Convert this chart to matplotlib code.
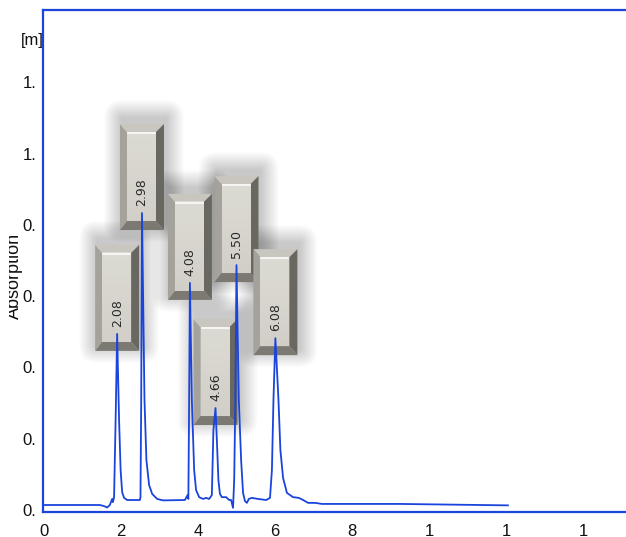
import matplotlib
matplotlib.use("Agg")
import matplotlib.pyplot as plt
from matplotlib.patches import Polygon, Rectangle, FancyBboxPatch
from matplotlib.transforms import IdentityTransform, Bbox

# ---------------- data ----------------
time_min = [0.00, 1.45, 1.56, 1.64, 1.71, 1.77, 1.79, 1.82, 1.86, 1.90, 1.95, 1.99, 2.03, 2.08, 2.16,
            2.49, 2.506, 2.525, 2.545, 2.61, 2.66, 2.73, 2.81, 2.94, 3.09, 3.66, 3.73, 3.75, 3.77,
            3.79, 3.84, 3.90, 3.95, 4.03, 4.13, 4.21, 4.29, 4.36, 4.40, 4.455, 4.49, 4.53, 4.57,
            4.62, 4.73, 4.81, 4.86, 4.91, 4.94, 4.97, 5.00, 5.06, 5.12, 5.17, 5.22, 5.27, 5.32,
            5.40, 5.56, 5.77, 5.87, 5.92, 5.96, 6.01, 6.09, 6.14, 6.21, 6.31, 6.47, 6.62, 6.73,
            6.86, 7.04, 7.22, 9.25, 12.05]
absorption = [0.014, 0.014, 0.011, 0.007, 0.014, 0.031, 0.022, 0.036, 0.252, 0.494, 0.252, 0.112,
              0.050, 0.034, 0.028, 0.028, 0.036, 0.309, 0.833, 0.309, 0.140, 0.070, 0.045, 0.031,
              0.027, 0.028, 0.042, 0.031, 0.309, 0.637, 0.309, 0.112, 0.056, 0.036, 0.031, 0.034,
              0.031, 0.042, 0.224, 0.286, 0.196, 0.084, 0.045, 0.036, 0.036, 0.028, 0.028, 0.006,
              0.084, 0.309, 0.687, 0.309, 0.140, 0.048, 0.025, 0.020, 0.031, 0.034, 0.031, 0.028,
              0.034, 0.112, 0.309, 0.482, 0.309, 0.168, 0.090, 0.048, 0.036, 0.034, 0.028, 0.020,
              0.020, 0.017, 0.017, 0.013]

peak_labels = ["2.08", "2.98", "4.08", "4.66", "5.50", "6.08"]
peak_times = [1.90, 2.545, 3.79, 4.455, 5.00, 6.01]
peak_heights = [0.494, 0.833, 0.637, 0.286, 0.687, 0.482]

x_ticks = [0, 2, 4, 6, 8, 10, 12, 14]
x_ticklabels = ["0", "2", "4", "6", "8", "1", "1", "1"]
y_ticks = [0.0, 0.2, 0.4, 0.6, 0.8, 1.0, 1.2]
y_ticklabels = ["0.", "0.", "0.", "0.", "0.", "1.", "1."]

# ---------------- figure ----------------
W, H = 626, 537
fig = plt.figure(figsize=(W / 100, H / 100), dpi=100)
fig.patch.set_facecolor("white")

x_px_per_unit = 38.5
y_px_per_unit = 356.5
x_lo, y_lo, y_hi = -1 / x_px_per_unit, -2 / y_px_per_unit, 500 / y_px_per_unit
x_hi = 16.0
ax_left = 43
ax_bottom = H - 512
ax_w = (x_hi - x_lo) * x_px_per_unit
ax_h = 502
ax = fig.add_axes([ax_left / W, ax_bottom / H, ax_w / W, ax_h / H])
ax.set_xlim(x_lo, x_hi)
ax.set_ylim(y_lo, y_hi)

blue = "#1a44dc"
for side in ["left", "top", "bottom"]:
    ax.spines[side].set_color(blue)
    ax.spines[side].set_linewidth(1.6)
ax.spines["right"].set_visible(False)

ax.set_xticks(x_ticks)
ax.set_xticklabels(x_ticklabels)
ax.set_yticks(y_ticks)
ax.set_yticklabels(y_ticklabels)
ax.tick_params(axis="both", length=0, labelsize=12, colors="#111111")
ax.tick_params(axis="x", pad=9)
ax.tick_params(axis="y", pad=5)
for lab in ax.get_xticklabels() + ax.get_yticklabels():
    lab.set_fontfamily("Liberation Sans")

fig.text(32 / W, 1 - 40 / H, "[m]", fontsize=12, family="Liberation Sans",
         ha="center", va="center", color="#111111")
ylab = fig.text(14 / W, 1 - 276 / H, "Absorption", fontsize=13, family="Liberation Sans",
                rotation=90, ha="center", va="center", color="#111111")
ylab.set_clip_box(Bbox([[9, 0], [W, H]]))
ylab.set_clip_on(True)

# trace
ax.plot(time_min, absorption, color=blue, lw=1.3, zorder=10, clip_on=False)

# ---------------- bevelled label boxes ----------------
def draw_box(px, py, label):
    L, R = px - 22, px + 22
    B, T = py - 17, py + 89
    bl, br, bt, bb = 7, 8, 8, 9
    iL, iR, iB, iT = L + bl, R - br, B + bb, T - bt
    tr = IdentityTransform()
    # soft shadow (cast slightly upward / to the right)
    for k in range(18, 0, -1):
        ax.add_patch(FancyBboxPatch((L + 2, B + 6), (R - L), (T - B),
                                    boxstyle="round,pad=%d,rounding_size=%d" % (k, k),
                                    transform=tr, facecolor="#000000", edgecolor="none",
                                    alpha=0.011, zorder=2, clip_on=False))
    ax.add_patch(Polygon([(L, B), (L, T), (iL, iT), (iL, iB)], closed=True, transform=tr,
                         facecolor="#a4a29b", edgecolor="none", zorder=3, clip_on=False))
    ax.add_patch(Polygon([(L, T), (R, T), (iR, iT), (iL, iT)], closed=True, transform=tr,
                         facecolor="#c8c6bf", edgecolor="none", zorder=3, clip_on=False))
    ax.add_patch(Polygon([(R, T), (R, B), (iR, iB), (iR, iT)], closed=True, transform=tr,
                         facecolor="#686760", edgecolor="none", zorder=3, clip_on=False))
    ax.add_patch(Polygon([(R, B), (L, B), (iL, iB), (iR, iB)], closed=True, transform=tr,
                         facecolor="#7b7972", edgecolor="none", zorder=3, clip_on=False))
    # face with a vertical gradient made of strips
    n = 12
    hh = (iT - iB) / n
    for i in range(n):
        f = i / (n - 1)
        c = (0.82 + 0.04 * f, 0.813 + 0.04 * f, 0.785 + 0.04 * f)
        ax.add_patch(Rectangle((iL, iB + i * hh), iR - iL, hh + 0.5, transform=tr,
                               facecolor=c, edgecolor="none", zorder=4, clip_on=False))
    # highlight line below the top bevel
    ax.plot([iL + 1, iR - 1], [iT - 1, iT - 1], transform=tr, color="white", lw=1.2,
            alpha=0.9, zorder=5, clip_on=False)
    ax.annotate(label, xy=(px, py), xycoords=tr, xytext=(0, 21), textcoords="offset pixels",
                rotation=90, ha="center", va="center", fontsize=9, family="DejaVu Sans",
                color="#2a2a2a", zorder=6)

for t, h, lab in zip(peak_times, peak_heights, peak_labels):
    px, py = ax.transData.transform((t, h))
    draw_box(px, py, lab)

fig.savefig("out.png", dpi=100)
